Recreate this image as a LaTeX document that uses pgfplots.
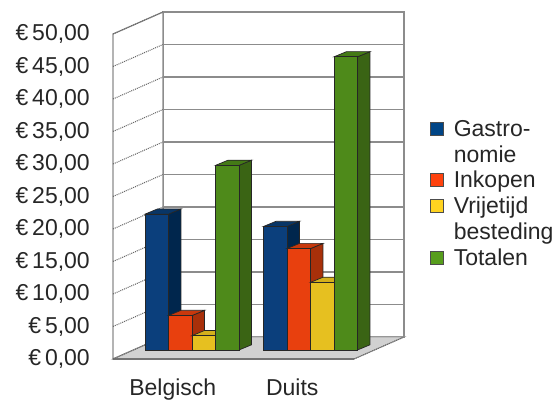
\documentclass[border=0pt]{standalone}
\usepackage{pgfplots}
\pgfplotsset{compat=1.18}
\usepackage{fontspec}
\setmainfont{Liberation Sans}
\definecolor{fB}{HTML}{0B3F7C}\definecolor{sB}{HTML}{00264D}\definecolor{tB}{HTML}{083566}
\definecolor{fR}{HTML}{E8400E}\definecolor{sR}{HTML}{A8300A}\definecolor{tR}{HTML}{C8380C}
\definecolor{fY}{HTML}{E6C020}\definecolor{sY}{HTML}{A89018}\definecolor{tY}{HTML}{D4B01C}
\definecolor{fG}{HTML}{4E8A1A}\definecolor{sG}{HTML}{3A6414}\definecolor{tG}{HTML}{447A16}
\definecolor{lB}{HTML}{004586}\definecolor{lR}{HTML}{FF420E}\definecolor{lY}{HTML}{FFD320}\definecolor{lG}{HTML}{579D1C}
\newcommand\bigfont{\fontsize{23}{23}\selectfont}
% 3D bar: #1 left x (bar plane), #2 value, #3 front, #4 side, #5 top colour
\newcommand\tdbar[5]{%
  \pgfmathsetmacro\xa{#1+23.5}\pgfmathsetmacro\xb{#1+36}%
  \pgfmathsetmacro\xc{#1+12.5}\pgfmathsetmacro\vt{#2+0.8}%
  \edef\tmp{%
  \noexpand\addplot[forget plot, fill=#4, draw=black!85, line width=0.7pt]
     coordinates {(\xa,0) (\xb,0.8) (\xb,\vt) (\xa,#2)} -- cycle;
  \noexpand\addplot[forget plot, fill=#5, draw=black!85, line width=0.7pt]
     coordinates {(#1,#2) (\xc,\vt) (\xb,\vt) (\xa,#2)} -- cycle;
  \noexpand\addplot[forget plot, fill=#3, draw=black!85, line width=0.7pt]
     coordinates {(#1,0) (#1,#2) (\xa,#2) (\xa,0)} -- cycle;}\tmp}
\begin{document}
\begin{tikzpicture}
\begin{axis}[
  scale only axis, width=291pt, height=347pt,
  xmin=113, xmax=404, ymin=-1.385, ymax=52,
  clip=false,
  axis line style={draw=none},
  major tick length=0pt,
  ytick={-1.385,3.615,8.615,13.615,18.615,23.615,28.615,33.615,38.615,43.615,48.615},
  yticklabels={{€\,0,00},{€\,5,00},{€\,10,00},{€\,15,00},{€\,20,00},{€\,25,00},{€\,30,00},{€\,35,00},{€\,40,00},{€\,45,00},{€\,50,00}},
  yticklabel style={font=\bigfont, anchor=east, inner sep=0pt, xshift=-23pt, text=black!85},
  xtick={172.75,292.25}, xticklabels={Belgisch,Duits},
  xticklabel style={font=\bigfont, anchor=north, inner sep=0pt, yshift=-20pt, text=black!85},
  legend cell align=left,
  legend image code/.code={\draw[#1] (0pt,-6.5pt) rectangle (13pt,6.5pt);},
  legend style={at={(1.0893,0.6888)}, anchor=north west, draw=none, fill=none,
    inner sep=0pt, row sep=7.6pt, font=\bigfont, text=black!85,
    nodes={inner sep=0pt},
    /tikz/every odd column/.append style={column sep=10pt}},
]
% legend
\addlegendimage{fill=lB, draw=black!70, line width=0.6pt}\addlegendentry{Gastro-}
\addlegendimage{empty legend}\addlegendentry{nomie}
\addlegendimage{fill=lR, draw=black!70, line width=0.6pt}\addlegendentry{Inkopen}
\addlegendimage{fill=lY, draw=black!70, line width=0.6pt}\addlegendentry{Vrijetijd}
\addlegendimage{empty legend}\addlegendentry{besteding}
\addlegendimage{fill=lG, draw=black!70, line width=0.6pt}\addlegendentry{Totalen}
% back wall
\addplot[forget plot, fill=white, draw=black!45, line width=1.2pt]
  coordinates {(163,2) (163,52) (404,52) (404,2)} -- cycle;
\addplot[forget plot, draw=black!45, line width=1.6pt, unbounded coords=jump]
  coordinates {(163,7) (404,7) (163,nan) (163,12) (404,12) (163,nan) (163,17) (404,17)
   (163,nan) (163,22) (404,22) (163,nan) (163,27) (404,27) (163,nan) (163,32) (404,32)
   (163,nan) (163,37) (404,37) (163,nan) (163,42) (404,42) (163,nan) (163,47) (404,47)};
% left wall
\addplot[forget plot, fill=white, draw=black!45, line width=1.2pt]
  coordinates {(113,-1.385) (113,48.615) (163,52) (163,2)} -- cycle;
\addplot[forget plot, draw=black!60, line width=1pt, densely dotted, unbounded coords=jump]
  coordinates {(113,3.615) (163,7) (113,nan) (113,8.615) (163,12) (113,nan) (113,13.615) (163,17)
   (113,nan) (113,18.615) (163,22) (113,nan) (113,23.615) (163,27) (113,nan) (113,28.615) (163,32)
   (113,nan) (113,33.615) (163,37) (113,nan) (113,38.615) (163,42) (113,nan) (113,43.615) (163,47)
   (113,nan) (113,48.615) (163,52)};
% floor
\addplot[forget plot, fill=black!18, draw=black!40, line width=1pt]
  coordinates {(113,-1.385) (354,-1.385) (404,2) (163,2)} -- cycle;
\addplot[forget plot, draw=black!55, line width=1.8pt]
  coordinates {(113,-1.385) (354,-1.385)};
\addplot[forget plot, draw=black!60, line width=1pt, densely dotted]
  coordinates {(113,-1.385) (163,2)};
\addplot[forget plot, draw=black!60, line width=1pt, densely dotted]
  coordinates {(354,-1.385) (404,2)};
% bars: Belgisch
\tdbar{145}{20.9}{fB}{sB}{tB}
\tdbar{168.5}{5.3}{fR}{sR}{tR}
\tdbar{192}{2.2}{fY}{sY}{tY}
\tdbar{215.5}{28.4}{fG}{sG}{tG}
% bars: Duits
\tdbar{263.5}{19.0}{fB}{sB}{tB}
\tdbar{287}{15.6}{fR}{sR}{tR}
\tdbar{310.5}{10.4}{fY}{sY}{tY}
\tdbar{334}{45.1}{fG}{sG}{tG}
\coordinate (bbSW) at (axis cs:0,-7.692);
\coordinate (bbNE) at (axis cs:558,53.846);
\end{axis}
\pgfresetboundingbox
\useasboundingbox (bbSW) rectangle (bbNE);
\end{tikzpicture}
\end{document}
